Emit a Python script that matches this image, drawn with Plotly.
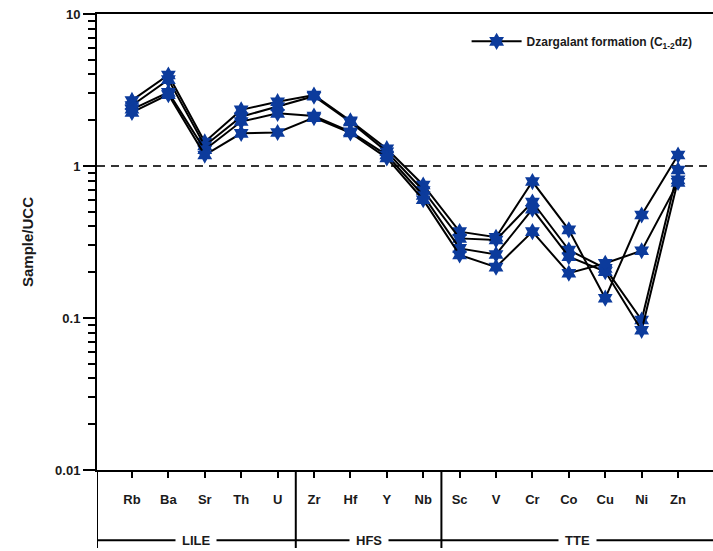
import plotly.graph_objects as go

# ---------------- data ----------------
elements = ["Rb", "Ba", "Sr", "Th", "U", "Zr", "Hf", "Y", "Nb",
            "Sc", "V", "Cr", "Co", "Cu", "Ni", "Zn"]

sample_1 = [2.70, 3.97, 1.44, 2.34, 2.65, 2.93, 1.98, 1.30, 0.75, 0.37, 0.34, 0.79, 0.38, 0.135, 0.476, 1.18]
sample_2 = [2.50, 3.70, 1.36, 2.11, 2.46, 2.88, 1.95, 1.24, 0.69, 0.334, 0.326, 0.58, 0.28, 0.212, 0.097, 0.94]
sample_3 = [2.36, 3.05, 1.28, 1.96, 2.22, 2.13, 1.68, 1.18, 0.64, 0.287, 0.262, 0.52, 0.253, 0.202, 0.083, 0.81]
sample_4 = [2.25, 2.95, 1.18, 1.64, 1.66, 2.08, 1.65, 1.13, 0.60, 0.26, 0.216, 0.37, 0.197, 0.229, 0.277, 0.78]
samples = [sample_1, sample_2, sample_3, sample_4]

legend_name = "Dzargalant formation (C<sub>1-2</sub>dz)"

groups = ["LILE", "HFS", "TTE"]
group_first = ["Rb", "Zr", "Sc"]

y_tick_vals = [0.01, 0.1, 1, 10]
y_tick_text = ["0.01", "0.1", "1", "10"]
reference_value = 1

# ---------------- figure ----------------
FONT = "Liberation Sans, Arial, sans-serif"
MARKER_COLOR = "#0c3b9c"
x_lo, x_hi = -0.96, 15.96

fig = go.Figure()
xs = list(range(len(elements)))
for k, s in enumerate(samples):
    fig.add_trace(go.Scatter(
        x=xs, y=s, mode="lines+markers",
        name=legend_name, showlegend=(k == 0),
        line=dict(color="black", width=2),
        marker=dict(symbol="hexagram", size=13, color=MARKER_COLOR,
                    line=dict(width=0)),
    ))

# minor ticks on the log axis
minor_vals = [m * 10 ** e for e in (-2, -1, 0) for m in range(2, 10)]

fig.update_layout(
    width=713, height=551,
    margin=dict(l=97, r=0, t=14, b=81),
    paper_bgcolor="white", plot_bgcolor="white",
    font=dict(family=FONT, color="#1a1a1a"),
    showlegend=True,
    legend=dict(x=0.600, y=0.94, xanchor="left", yanchor="middle",
                bgcolor="rgba(0,0,0,0)", font=dict(size=12, weight="bold"),
                itemwidth=50),
    xaxis=dict(
        range=[x_lo, x_hi], tickmode="array", tickvals=xs, ticktext=elements,
        ticks="outside", ticklen=6, tickwidth=1.5, tickcolor="black",
        showline=True, linecolor="black", linewidth=2, mirror=True,
        showgrid=False, zeroline=False,
        tickfont=dict(size=13, weight="bold", color="#1a1a1a"),
        ticklabelstandoff=10,
    ),
    yaxis=dict(
        type="log", range=[-2, 1],
        tickmode="array", tickvals=y_tick_vals, ticktext=y_tick_text,
        ticks="outside", ticklen=12, tickwidth=1.5, tickcolor="black",
        minor=dict(tickvals=minor_vals, ticks="outside", ticklen=7,
                   tickwidth=1.5, tickcolor="black", showgrid=False),
        showline=True, linecolor="black", linewidth=2,
        showgrid=False, zeroline=False,
        tickfont=dict(size=13, weight="bold", color="#1a1a1a"),
        title=dict(text="Sample/UCC", font=dict(size=15, weight="bold"), standoff=18),
    ),
)

# reference line at 1
fig.add_shape(type="line", xref="paper", yref="y", x0=0, x1=1,
              y0=reference_value, y1=reference_value, layer="below",
              line=dict(color="#333333", width=2, dash="8px,6px"))

# group brackets under the axis
y_bracket = -0.154
y_bottom = -0.171
starts = [elements.index(g) for g in group_first]
bounds = [x_lo] + [s - 0.5 for s in starts[1:]] + [x_hi]
fig.add_shape(type="line", xref="x", yref="paper", x0=x_lo, x1=x_hi,
              y0=y_bracket, y1=y_bracket, line=dict(color="black", width=2))
for b in bounds[:-1]:
    fig.add_shape(type="line", xref="x", yref="paper", x0=b, x1=b,
                  y0=0, y1=y_bottom, line=dict(color="black", width=2))
for g, a, b in zip(groups, bounds[:-1], bounds[1:]):
    fig.add_annotation(x=(a + b) / 2, y=y_bracket, xref="x", yref="paper",
                       xanchor="center", yanchor="middle",
                       text=g, showarrow=False, bgcolor="white", borderpad=6,
                       font=dict(size=13, weight="bold", color="#1a1a1a"))

fig.write_html("out.html")
